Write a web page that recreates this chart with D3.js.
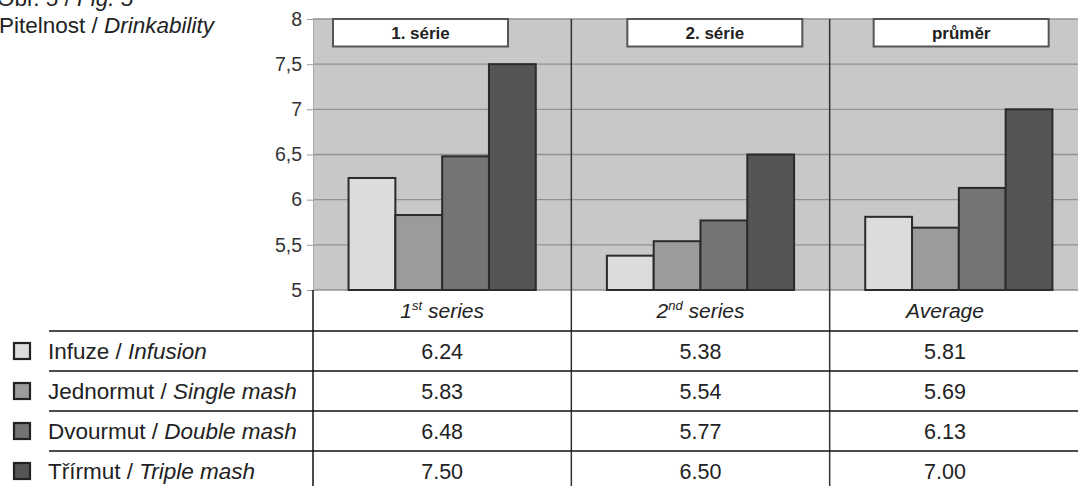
<!DOCTYPE html>
<html>
<head>
<meta charset="utf-8">
<script src="https://cdn.jsdelivr.net/npm/d3@7"></script>
<style>
  html, body { margin: 0; padding: 0; background: #fff; }
  svg { display: block; font-family: "Liberation Sans", Arial, Helvetica, sans-serif; }
</style>
</head>
<body>
<svg id="chart" width="1078" height="486"></svg>
<script>
// ---- data ----
const groups = ["1. série", "2. série", "průměr"];
const groupLabelsEn = [["1", "st", " series"], ["2", "nd", " series"], ["Average", "", ""]];
const seriesCz = ["Infuze", "Jednormut", "Dvourmut", "Třírmut"];
const seriesEn = ["Infusion", "Single mash", "Double mash", "Triple mash"];
const infusion   = [6.24, 5.38, 5.81];
const singleMash = [5.83, 5.54, 5.69];
const doubleMash = [6.48, 5.77, 6.13];
const tripleMash = [7.50, 6.50, 7.00];
const yTickValues = [5, 5.5, 6, 6.5, 7, 7.5, 8];
const yTickLabels = ["5", "5,5", "6", "6,5", "7", "7,5", "8"];

const seriesValues = [infusion, singleMash, doubleMash, tripleMash];
const colors = ["#dcdcdc", "#9b9b9b", "#747474", "#555555"];

// ---- layout ----
const plot = { left: 313, right: 1088, top: 19, bottom: 290 };
const svg = d3.select("#chart");

const y = d3.scaleLinear().domain([5, 8]).range([plot.bottom, plot.top]);
const x0 = d3.scaleBand().domain(groups).range([plot.left, plot.right]).paddingInner(0).paddingOuter(0);
const x1 = d3.scaleBand().domain(d3.range(4)).range([0, x0.bandwidth()]).paddingInner(0).paddingOuter(0.76);

// title
const title = svg.append("g").attr("font-size", 22.5).attr("fill", "#222");
const t1 = title.append("text").attr("x", -3).attr("y", 6);
t1.append("tspan").text("Obr. 5 / ");
t1.append("tspan").attr("font-style", "italic").text("Fig. 5");
const t2 = title.append("text").attr("x", -1).attr("y", 33);
t2.append("tspan").text("Pitelnost / ");
t2.append("tspan").attr("font-style", "italic").text("Drinkability");

// plot background
svg.append("rect")
  .attr("x", plot.left).attr("y", plot.top)
  .attr("width", plot.right - plot.left).attr("height", plot.bottom - plot.top)
  .attr("fill", "#c8c8c8");

// gridlines
svg.append("g").selectAll("line").data(yTickValues).join("line")
  .attr("x1", plot.left).attr("x2", plot.right)
  .attr("y1", d => y(d)).attr("y2", d => y(d))
  .attr("stroke", "#929292").attr("stroke-width", 1.3);

// y axis
const yAxis = svg.append("g")
  .attr("transform", `translate(${plot.left},0)`)
  .call(d3.axisLeft(y).tickValues(yTickValues)
    .tickFormat((d, i) => yTickLabels[i]).tickSize(6).tickPadding(5));
yAxis.select(".domain").attr("stroke", "#aaa").attr("stroke-width", 1);
yAxis.selectAll(".tick line").attr("stroke", "#999");
yAxis.selectAll(".tick text").attr("font-size", 19.5).attr("fill", "#333")
  .attr("font-family", "'Liberation Sans', Arial, sans-serif");

// group dividers
svg.append("g").selectAll("line").data(groups.slice(1)).join("line")
  .attr("x1", d => x0(d)).attr("x2", d => x0(d))
  .attr("y1", plot.top).attr("y2", 486)
  .attr("stroke", "#333").attr("stroke-width", 1.5);

// bars
const gBars = svg.append("g");
groups.forEach((g, gi) => {
  seriesValues.forEach((vals, si) => {
    gBars.append("rect")
      .attr("x", x0(g) + x1(si))
      .attr("y", y(vals[gi]))
      .attr("width", x1.bandwidth())
      .attr("height", y(5) - y(vals[gi]))
      .attr("fill", colors[si])
      .attr("stroke", "#2b2b2b").attr("stroke-width", 2);
  });
});

// group label boxes
const boxOffsets = [20, 56, 44];
const boxW = 175;
groups.forEach((g, gi) => {
  const bx = x0(g) + boxOffsets[gi];
  svg.append("rect").attr("x", bx).attr("y", 19).attr("width", boxW).attr("height", 27.5)
    .attr("fill", "#fff").attr("stroke", "#555").attr("stroke-width", 2);
  svg.append("text").attr("x", bx + boxW / 2).attr("y", 38.5)
    .attr("text-anchor", "middle").attr("font-weight", "bold").attr("font-size", 17)
    .attr("fill", "#222").text(g);
});

// ---- table ----
const rowTop = [331, 371, 411, 451];
const rowH = 40;
const table = svg.append("g").attr("fill", "#222");

table.append("line").attr("x1", plot.left).attr("x2", plot.left)
  .attr("y1", plot.bottom).attr("y2", 486).attr("stroke", "#111").attr("stroke-width", 1.5);

table.selectAll("line.h").data(rowTop).join("line").attr("class", "h")
  .attr("x1", 49).attr("x2", 1078).attr("y1", d => d).attr("y2", d => d)
  .attr("stroke", "#111").attr("stroke-width", 1.5);

const colCenter = gi => gi === 2 ? 945 : x0(groups[gi]) + x0.bandwidth() / 2;

groups.forEach((g, gi) => {
  const lab = groupLabelsEn[gi];
  const t = table.append("text").attr("x", colCenter(gi)).attr("y", 318)
    .attr("text-anchor", "middle").attr("font-size", 21).attr("font-style", "italic");
  t.append("tspan").text(lab[0]);
  if (lab[1]) {
    t.append("tspan").attr("font-size", 13).attr("dy", -8).text(lab[1]);
    t.append("tspan").attr("dy", 8).text(lab[2]);
  }
});

seriesValues.forEach((vals, si) => {
  const cy = rowTop[si] + rowH / 2;
  table.append("rect").attr("x", 14).attr("y", cy - 8).attr("width", 16).attr("height", 16)
    .attr("fill", colors[si]).attr("stroke", "#222").attr("stroke-width", 2.2);
  const lt = table.append("text").attr("x", 48).attr("y", cy + 7.5).attr("font-size", 22.5);
  lt.append("tspan").text(seriesCz[si] + " / ");
  lt.append("tspan").attr("font-style", "italic").text(seriesEn[si]);
  groups.forEach((g, gi) => {
    table.append("text").attr("x", colCenter(gi)).attr("y", cy + 7.5)
      .attr("text-anchor", "middle").attr("font-size", 21.5)
      .text(d3.format(".2f")(vals[gi]));
  });
});
</script>
</body>
</html>
